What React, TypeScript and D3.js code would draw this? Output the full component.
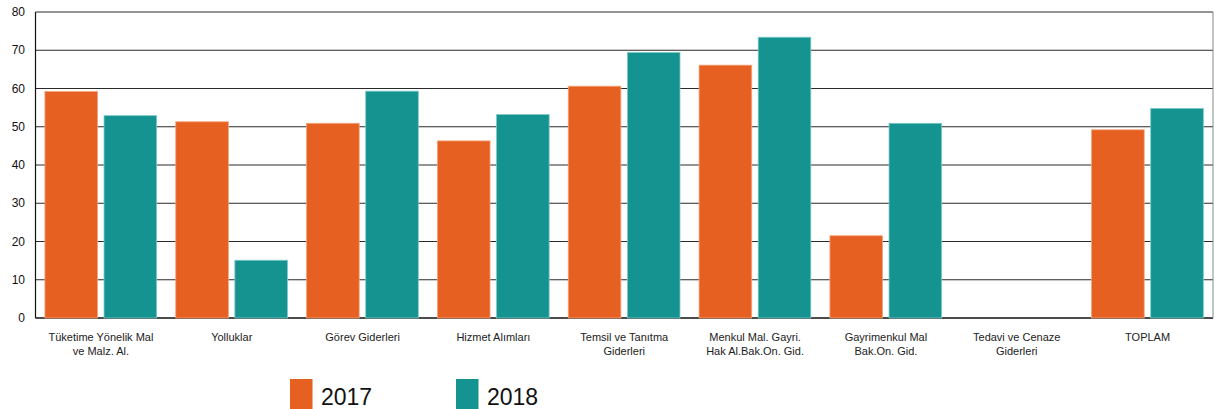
import React from "react";
import * as d3 from "d3";

const categories: string[][] = [
  ["Tüketime Yönelik Mal", "ve Malz. Al."],
  ["Yolluklar"],
  ["Görev Giderleri"],
  ["Hizmet Alımları"],
  ["Temsil ve Tanıtma", "Giderleri"],
  ["Menkul Mal. Gayri.", "Hak Al.Bak.On. Gid."],
  ["Gayrimenkul Mal", "Bak.On. Gid."],
  ["Tedavi ve Cenaze", "Giderleri"],
  ["TOPLAM"],
];
const values2017: number[] = [59.2, 51.3, 50.9, 46.3, 60.6, 66.1, 21.5, 0, 49.2];
const values2018: number[] = [52.9, 15.1, 59.3, 53.2, 69.4, 73.4, 50.9, 0, 54.8];
const seriesNames: string[] = ["2017", "2018"];
const yTicks: number[] = [0, 10, 20, 30, 40, 50, 60, 70, 80];
const colors: string[] = ["#E66022", "#149390"];
const strokeColors: string[] = ["#F5A27A", "#7CCBC7"];

const W = 1214;
const H = 409;
const left = 35.5;
const right = 1213;
const top = 12;
const bottom = 318;

export default function App() {
  const keys = categories.map((_, i) => String(i));
  const x0 = d3.scaleBand<string>().domain(keys).range([left, right]).padding(0);
  const bw = x0.bandwidth();
  const x1 = d3
    .scaleBand<string>()
    .domain(seriesNames)
    .range([bw * 0.072, bw * 0.926])
    .paddingInner(0.11);
  const y = d3.scaleLinear().domain([0, 80]).range([bottom, top]);
  const series = [values2017, values2018];
  const font = "'Liberation Sans', Arial, sans-serif";

  return (
    <svg width={W} height={H} style={{ position: "absolute", left: 0, top: 0 }}>
      <rect x={0} y={0} width={W} height={H} fill="#fff" />
      {yTicks.map((t) => (
        <line
          key={"g" + t}
          x1={left}
          x2={right}
          y1={y(t)}
          y2={y(t)}
          stroke={t === 0 ? "#111" : "#2a2a2a"}
          strokeWidth={t === 0 ? 1.6 : 1}
        />
      ))}
      <line x1={right} x2={right} y1={top} y2={bottom} stroke="#888" strokeWidth={1} />
      <line x1={left} x2={left} y1={top} y2={bottom} stroke="#111" strokeWidth={1.2} />
      {yTicks.map((t) => (
        <text
          key={"t" + t}
          x={25}
          y={y(t)}
          dy="0.35em"
          textAnchor="end"
          fontFamily={font}
          fontSize={12}
          fill="#111"
        >
          {t}
        </text>
      ))}
      {keys.map((k, i) => (
        <g key={"c" + k} transform={`translate(${x0(k)},0)`}>
          {seriesNames.map((s, j) => {
            const v = series[j][i];
            if (!v) return null;
            return (
              <rect
                key={s}
                x={x1(s)}
                y={y(v)}
                width={x1.bandwidth()}
                height={y(0) - y(v)}
                fill={colors[j]}
                stroke={strokeColors[j]}
                strokeWidth={0.8}
              />
            );
          })}
          {categories[i].map((line, li) => (
            <text
              key={li}
              x={bw / 2}
              y={340.5 + li * 14}
              textAnchor="middle"
              fontFamily={font}
              fontSize={11}
              fill="#222"
            >
              {line}
            </text>
          ))}
        </g>
      ))}
      {seriesNames.map((s, j) => (
        <g key={"l" + s} transform={`translate(${290 + j * 166},379)`}>
          <rect x={0} y={0} width={22.5} height={30} fill={colors[j]} />
          <text x={31} y={25.5} fontFamily={font} fontSize={23} fill="#111">
            {s}
          </text>
        </g>
      ))}
    </svg>
  );
}
